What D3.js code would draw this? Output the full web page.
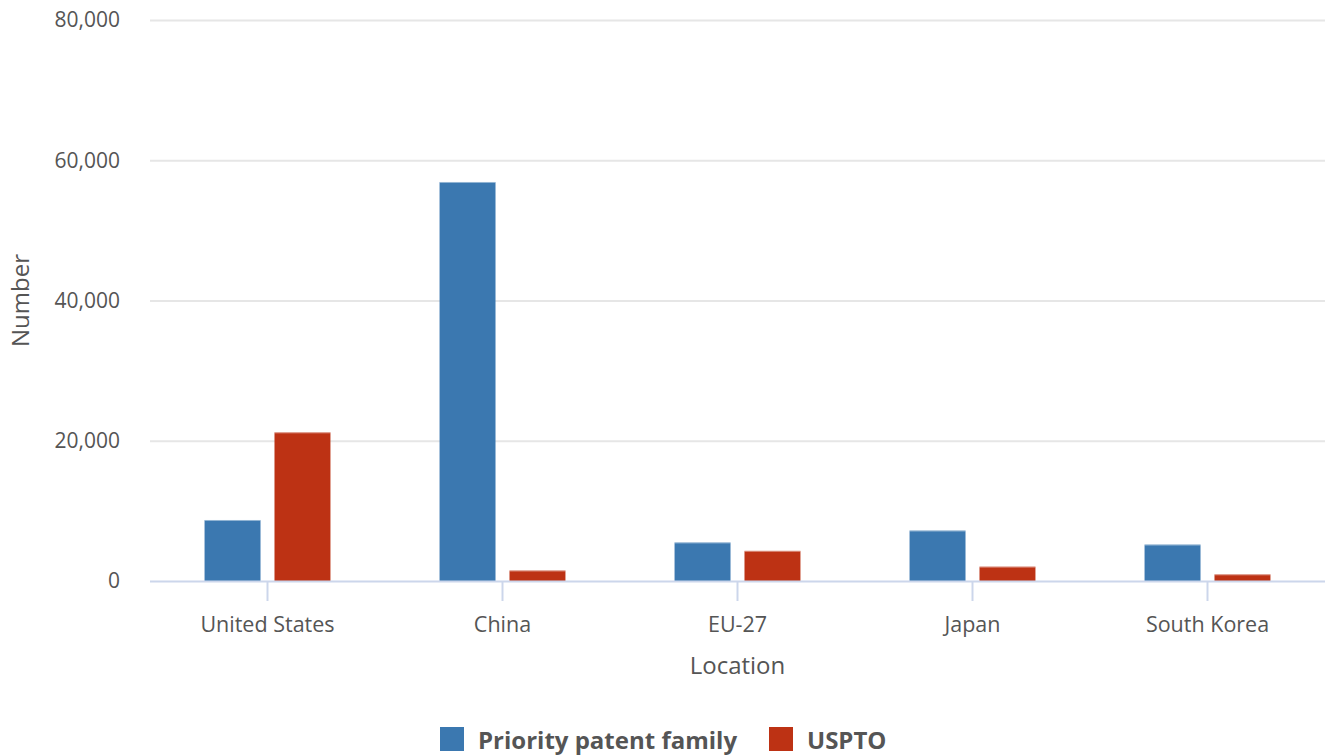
<!DOCTYPE html>
<html>
<head>
<meta charset="utf-8">
<script src="https://cdn.jsdelivr.net/npm/d3@7"></script>
<style>
  body { margin: 0; background: #fff; }
  text { font-family: "Open Sans", sans-serif; }
</style>
</head>
<body>
<script>
// valori
const locations = ["United States", "China", "EU-27", "Japan", "South Korea"];
const seriesNames = ["Priority patent family", "USPTO"];
const priorityFamily = [8700, 56900, 5500, 7200, 5200];
const uspto = [21200, 1500, 4300, 2050, 950];
const yTicks = [0, 20000, 40000, 60000, 80000];
const colors = ["#3b78b0", "#bd3214"];

const width = 1327, height = 755;
const margin = { left: 150, right: 2, top: 20, bottom: 174 };

var svg = d3.select("body")
  .append("svg")
  .attr("width", width)
  .attr("height", height);

const x = d3.scaleBand()
  .domain(locations)
  .range([margin.left, width - margin.right]);

const x1 = d3.scaleBand()
  .domain(seriesNames)
  .range([0, x.bandwidth()])
  .paddingInner(0.2)
  .paddingOuter(0.78);

const y = d3.scaleLinear()
  .domain([0, 80000])
  .range([height - margin.bottom, margin.top]);

// griglia
svg.append("g")
  .selectAll("line")
  .data(yTicks.slice(1))
  .join("line")
  .attr("x1", margin.left)
  .attr("x2", width - margin.right)
  .attr("y1", d => y(d) + 0.5)
  .attr("y2", d => y(d) + 0.5)
  .attr("stroke", "#e6e6e6")
  .attr("stroke-width", 2);

// etichette asse y
svg.append("g")
  .selectAll("text")
  .data(yTicks)
  .join("text")
  .attr("x", 120)
  .attr("y", d => y(d))
  .attr("dy", "0.35em")
  .attr("text-anchor", "end")
  .attr("fill", "#555")
  .style("font-size", "21px")
  .text(d => d3.format(",")(d));

// barre
const data = locations.map((loc, i) => ({
  loc: loc,
  values: [priorityFamily[i], uspto[i]]
}));

const groups = svg.append("g")
  .selectAll("g")
  .data(data)
  .join("g")
  .attr("transform", d => "translate(" + x(d.loc) + ",0)");

groups.selectAll("rect")
  .data(d => d.values.map((v, j) => ({ name: seriesNames[j], value: v, j: j })))
  .join("rect")
  .attr("x", d => x1(d.name))
  .attr("y", d => y(d.value))
  .attr("width", x1.bandwidth())
  .attr("height", d => y(0) - y(d.value))
  .attr("fill", d => colors[d.j]);

// bordo superiore chiaro
groups.selectAll("line")
  .data(d => d.values.map((v, j) => ({ name: seriesNames[j], value: v, j: j })))
  .join("line")
  .attr("x1", d => x1(d.name))
  .attr("x2", d => x1(d.name) + x1.bandwidth())
  .attr("y1", d => y(d.value) + 0.5)
  .attr("y2", d => y(d.value) + 0.5)
  .attr("stroke", "#fff")
  .attr("stroke-opacity", 0.45);

// asse x
svg.append("line")
  .attr("x1", margin.left)
  .attr("x2", width - margin.right)
  .attr("y1", y(0) + 0.5)
  .attr("y2", y(0) + 0.5)
  .attr("stroke", "#ccd6eb")
  .attr("stroke-width", 2);

svg.append("g")
  .selectAll("line")
  .data(locations)
  .join("line")
  .attr("x1", d => x(d) + x.bandwidth() / 2)
  .attr("x2", d => x(d) + x.bandwidth() / 2)
  .attr("y1", y(0))
  .attr("y2", y(0) + 20)
  .attr("stroke", "#ccd6eb")
  .attr("stroke-width", 2);

svg.append("g")
  .selectAll("text")
  .data(locations)
  .join("text")
  .attr("x", d => x(d) + x.bandwidth() / 2)
  .attr("y", 632)
  .attr("text-anchor", "middle")
  .attr("fill", "#555")
  .style("font-size", "21.5px")
  .text(d => d);

// titoli assi
svg.append("text")
  .attr("x", (margin.left + width - margin.right) / 2)
  .attr("y", 674)
  .attr("text-anchor", "middle")
  .attr("fill", "#555")
  .style("font-size", "24px")
  .text("Location");

svg.append("text")
  .attr("transform", "translate(29," + (y(40000)) + ") rotate(-90)")
  .attr("text-anchor", "middle")
  .attr("fill", "#555")
  .style("font-size", "24px")
  .text("Number");

// legenda
const legend = svg.append("g");
const legendX = [440, 769];
seriesNames.forEach(function (name, i) {
  legend.append("rect")
    .attr("x", legendX[i])
    .attr("y", 727)
    .attr("width", 24)
    .attr("height", 24)
    .attr("fill", colors[i]);
  legend.append("text")
    .attr("x", legendX[i] + 38)
    .attr("y", 749)
    .attr("fill", "#555")
    .style("font-size", "24px")
    .style("font-weight", "bold")
    .text(name);
});
</script>
</body>
</html>
